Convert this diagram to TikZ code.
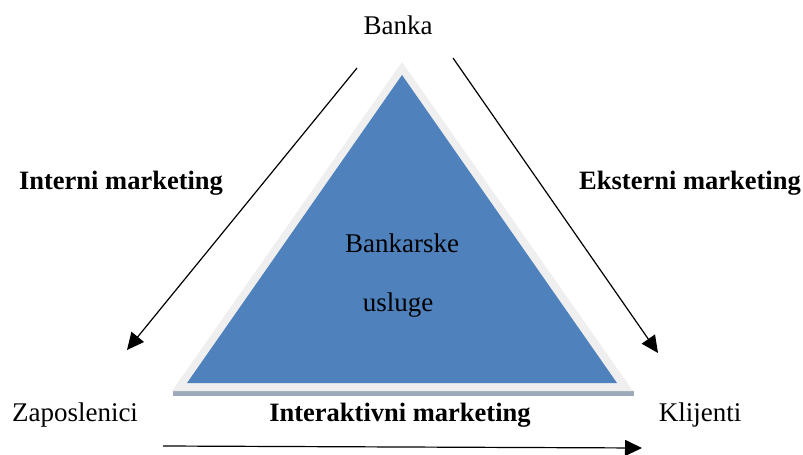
\documentclass[tikz,border=0pt]{standalone}
\usepackage{fontspec}
\setmainfont{Liberation Serif}
\usepackage{tikz}
\usetikzlibrary{arrows.meta}
\definecolor{triblue}{HTML}{4F81BD}
\definecolor{tririm}{HTML}{EFEFEF}
\definecolor{trishade}{HTML}{9DA8B8}

\begin{document}
\begin{tikzpicture}[x=1pt, y=-1pt,
    txt/.style={font=\fontsize{27}{31}\selectfont, inner sep=0pt},
    btxt/.style={txt, font=\fontsize{26.5}{30}\selectfont\bfseries},
    flow/.style={line width=1.2pt, -{Triangle[length=17pt, width=16pt]}}]
                \useasboundingbox (0,0) rectangle (803,455);

                % Triangle
                \fill[trishade] (173,391) rectangle (634,396);
                \fill[tririm] (402,62) -- (633,391) -- (172,391) -- cycle;
                \fill[triblue] (402,75) -- (617,383) -- (187,383) -- cycle;
                \node[txt] (usl1) at (402,243) {Bankarske};
                \node[txt] (usl2) at (398,305) {usluge};

                % Corners
                \node[txt] (banka) at (398,25) {Banka};
                \node[txt] (zap) at (75,415) {Zaposlenici};
                \node[txt] (klij) at (700,415) {Klijenti};

                % Marketing labels
                \node[btxt] (intern) at (121,183) {Interni marketing};
                \node[btxt] (ekstern) at (690,183) {Eksterni marketing};
                \node[btxt] (interakt) at (400,415) {Interaktivni marketing};

                % Arrows
                \coordinate (a1) at (357,68);
                \coordinate (a2) at (127,350);
                \coordinate (b1) at (453,58);
                \coordinate (b2) at (658,353);
                \coordinate (c1) at (163,446);
                \coordinate (c2) at (642,448);
                \draw[flow] (a1) -- (a2);
                \draw[flow] (b1) -- (b2);
                \draw[flow] (c1) -- (c2);
            \end{tikzpicture}
\end{document}
